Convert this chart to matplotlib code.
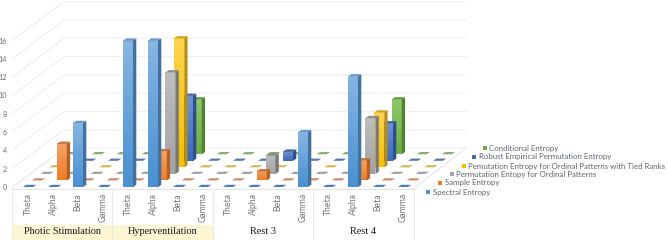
import matplotlib
matplotlib.use("Agg")
import matplotlib.pyplot as plt
import numpy as np

series = ["Spectral Entropy", "Sample Entropy", "Permutation Entopy for Ordinal Patterns",
          "Pemutation Entropy for Ordinal Patterns with Tied Ranks",
          "Robust Empirical Permutation Entropy", "Conditional Entropy"]
bands = ["Theta", "Alpha", "Beta", "Gamma"]
groups = ["Photic Stimulation", "Hyperventilation", "Rest 3", "Rest 4"]
yticks = [0, 2, 4, 6, 8, 10, 12, 14, 16]

spectral = [0, 0, 7.0, 0, 16, 16, 0, 0, 0, 0, 0, 6.0, 0, 12.1, 0, 0]
sample = [0, 4.0, 0, 0, 0, 3.2, 0, 0, 0, 1.0, 0, 0, 0, 2.2, 0, 0]
perm = [0, 0, 0, 0, 0, 11.1, 0, 0, 0, 2.0, 0, 0, 0, 6.1, 0, 0]
perm_tied = [0, 0, 0, 0, 0, 14.1, 0, 0, 0, 0, 0, 0, 0, 6.0, 0, 0]
robust = [0, 0, 0, 0, 0, 7.1, 0, 0, 0, 1.0, 0, 0, 0, 4.1, 0, 0]
conditional = [0, 0, 0, 0, 0, 6.0, 0, 0, 0, 0, 0, 0, 0, 6.0, 0, 0]
all_values = [spectral, sample, perm, perm_tied, robust, conditional]

# light, base, side, top, tile
colors = [("#86b5e2", "#4a90d2", "#41729f", "#6a9acb", "#4a7cbc"),
          ("#f4a368", "#ee7d25", "#b45f24", "#c9713a", "#d08a66"),
          ("#bdbdbd", "#a3a3a3", "#787878", "#8c8c8c", "#a0a0a0"),
          ("#fdd44c", "#f5c000", "#b98f12", "#cfa52a", "#d8b654"),
          ("#6f92d2", "#3d69b9", "#2d4f8c", "#3f62a5", "#5575b2"),
          ("#8dc869", "#6bae42", "#4f8332", "#659a48", "#7fae68")]

# pixel scale of the picture
px_x = 25.0    # px per category
px_y = 9.15    # px per value unit
x0_px = 28.0
y0_px = 187.0
row_dx = 8.75 / px_x
row_dy = 6.55 / px_y
half_w = 5.0 / px_x
depth_x = 3.3 / px_x
depth_y = 2.2 / px_y


def X(px):
    return (px - x0_px) / px_x


def Y(px):
    return (y0_px - px) / px_y


fig = plt.figure(figsize=(6.68, 2.4), dpi=100)
ax = fig.add_axes([0, 0, 1, 1])
ax.axis("off")

grid = "#f0f0f0"
left = X(12)
back_left = left + 5.95 * row_dx
back_right = X(466)
front_right = X(413.5)
wall_dy = 5.95 * row_dy
for v in yticks:
    ax.plot([left, back_left, back_right], [v, v + wall_dy, v + wall_dy], color=grid, lw=0.8, zorder=1)
    ax.text(X(7), v - 0.05, str(v), ha="right", va="center", fontsize=5.2, color="#707070", family="Lato")
ax.plot([left, back_left], [Y(189), wall_dy], color=grid, lw=0.8, zorder=1)
ax.plot([front_right, back_right], [Y(189), wall_dy], color="#e8e8e8", lw=0.8, zorder=1)
ax.plot([left, front_right], [Y(189), Y(189)], color="#e4e4e4", lw=0.8, zorder=1)

z = 2
for r in range(len(series) - 1, -1, -1):
    light, base, side, top, tile = colors[r]
    cmap = matplotlib.colors.LinearSegmentedColormap.from_list("g", [base, light])
    for c, v in enumerate(all_values[r]):
        xc = c + r * row_dx
        yb = r * row_dy
        xl = xc - half_w
        xr = xc + half_w
        if v == 0:
            ax.fill([xl, xr, xr + depth_x, xl + depth_x], [yb, yb, yb + depth_y, yb + depth_y],
                    color=tile, lw=0, zorder=z)
            z += 1
            continue
        ax.imshow(np.linspace(1, 0, 50).reshape(-1, 1), extent=[xl, xr, yb, yb + v], cmap=cmap,
                  aspect="auto", origin="upper", zorder=z)
        ax.fill([xr, xr + depth_x, xr + depth_x, xr],
                [yb, yb + depth_y, yb + v + depth_y, yb + v], color=side, lw=0, zorder=z)
        ax.fill([xl, xr, xr + depth_x, xl + depth_x],
                [yb + v, yb + v, yb + v + depth_y, yb + v + depth_y], color=top, lw=0, zorder=z)
        z += 1

# category axis under the floor
for i, b in enumerate(bands * 4):
    ax.text(i, Y(193), b, rotation=90, ha="center", va="top", fontsize=6.2, color="#747474",
            family="Lato")
for i, g in enumerate(groups):
    x1 = X(12 + 100.4 * i)
    x2 = X(12 + 100.4 * (i + 1))
    if i < 2:
        ax.fill([x1, x2, x2, x1], [Y(240), Y(240), Y(225), Y(225)], color="#fdf6d3", lw=0, zorder=1)
    ax.text((x1 + x2) / 2, Y(231), g, ha="center", va="center", fontsize=7.4, color="#1a1a1a",
            family="Liberation Serif")
for i in range(5):
    xv = X(12 + 100.4 * i)
    ax.plot([xv, xv], [Y(189), Y(240)], color="#e8e8e8", lw=0.7, zorder=2)

# staircase legend
legend_x = [433, 445, 456, 468, 479, 489]
legend_y = [192, 183, 174, 166, 157, 148]
for r in range(len(series)):
    ax.text(X(legend_x[r]), Y(legend_y[r]), series[r], ha="left", va="center", fontsize=5.65,
            color="#5f6670", family="Lato")
    ax.scatter([X(legend_x[r] - 4.5)], [Y(legend_y[r])], marker="s", s=9, color=colors[r][1], lw=0)

ax.set_xlim(X(0), X(668))
ax.set_ylim(Y(240), Y(0))
fig.savefig("out.png", dpi=100)
